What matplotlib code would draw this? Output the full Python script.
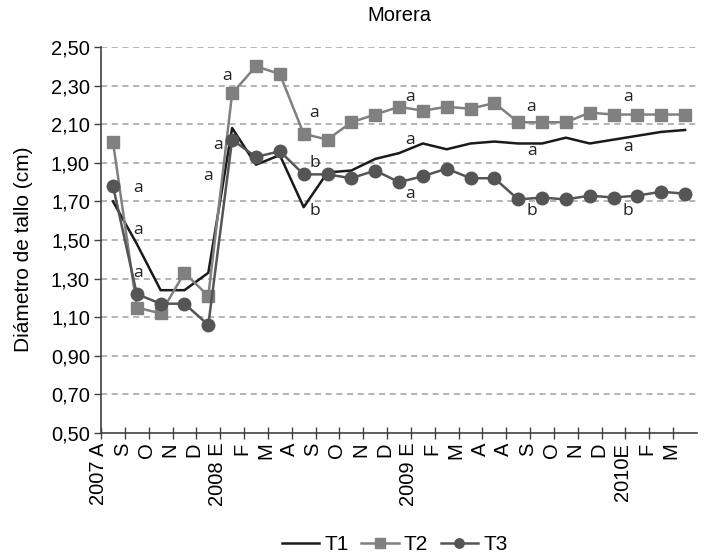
import numpy as np
import matplotlib
matplotlib.use("Agg")
import matplotlib.pyplot as plt
import matplotlib.transforms as mtransforms
from matplotlib.ticker import FuncFormatter

plt.rcParams["font.family"] = ["Liberation Sans", "DejaVu Sans"]

# category labels (month initials, year on first month)
months = ["2007 A", "S", "O", "N", "D", "2008 E", "F", "M", "A", "S", "O", "N",
          "D", "2009 E", "F", "M", "A", "A", "S", "O", "N", "D", "2010E", "F", "M"]

t1 = [1.70, 1.48, 1.24, 1.24, 1.33, 2.08, 1.89, 1.94, 1.67, 1.85, 1.86, 1.92,
      1.95, 2.00, 1.97, 2.00, 2.01, 2.00, 2.00, 2.03, 2.00, 2.02, 2.04, 2.06, 2.07]
t2 = [2.01, 1.15, 1.12, 1.33, 1.21, 2.26, 2.40, 2.36, 2.05, 2.02, 2.11, 2.15,
      2.19, 2.17, 2.19, 2.18, 2.21, 2.11, 2.11, 2.11, 2.16, 2.15, 2.15, 2.15, 2.15]
t3 = [1.78, 1.22, 1.17, 1.17, 1.06, 2.02, 1.93, 1.96, 1.84, 1.84, 1.82, 1.86,
      1.80, 1.83, 1.87, 1.82, 1.82, 1.71, 1.72, 1.71, 1.73, 1.72, 1.73, 1.75, 1.74]

# significance letters (position in category units, value)
letter_x = [1.05, 1.05, 1.05, 4.8, 4.4, 4.0,
            8.45, 8.45, 8.45, 12.45, 12.45, 12.45,
            17.55, 17.6, 17.55, 21.6, 21.6, 21.6]
letter_y = [1.77, 1.55, 1.33, 2.35, 1.99, 1.83,
            2.16, 1.90, 1.65, 2.24, 2.02, 1.74,
            2.19, 1.96, 1.65, 2.24, 1.98, 1.65]
letter_txt = ["a", "a", "a", "a", "a", "a",
              "a", "b", "b", "a", "a", "a",
              "a", "a", "b", "a", "a", "b"]

fig = plt.figure(figsize=(7.1, 5.56), dpi=100)
ax = fig.add_axes([0.1423, 0.2212, 0.8394, 0.6943])

x = np.arange(len(months))

ax.plot(x, t1, color="#1a1a1a", lw=1.8, label="T1", zorder=3)
ax.plot(x, t2, color="#808080", lw=1.8, marker="s", ms=9, label="T2", zorder=4)
ax.plot(x, t3, color="#555555", lw=1.8, marker="o", ms=9, label="T3", zorder=5)

for lx, ly, lt in zip(letter_x, letter_y, letter_txt):
    ax.text(lx, ly, lt, fontsize=12.5, ha="center", va="center",
            family=["Open Sans", "DejaVu Sans"], color="#222222", zorder=6)

ax.set_xlim(-0.5, len(months) - 0.5)
ax.set_ylim(0.5, 2.5)

yt = np.arange(0.5, 2.51, 0.2)
ax.set_yticks(yt)
ax.yaxis.set_major_formatter(FuncFormatter(lambda v, p: f"{v:.2f}".replace(".", ",")))
for v in yt[1:]:
    ax.axhline(v, color="#a0a0a0", lw=1.1, ls=(0, (4, 3)), zorder=1)

ax.set_xticks(x - 0.5)
ax.set_xticklabels(months, rotation=90, ha="center", va="top")
ax.tick_params(axis="x", direction="inout", length=8, width=1, color="#404040",
               labelsize=14.5, pad=3)
ax.tick_params(axis="y", direction="out", length=5, width=1, color="#404040",
               labelsize=14.5, pad=3)

# labels sit just left of their tick
shift = mtransforms.ScaledTranslation(-2.5 / 100, 0, fig.dpi_scale_trans)
for lab in ax.get_xticklabels():
    lab.set_transform(lab.get_transform() + shift)

for s in ["top", "right"]:
    ax.spines[s].set_visible(False)
for s in ["left", "bottom"]:
    ax.spines[s].set_color("#404040")
    ax.spines[s].set_linewidth(1.2)

fig.text(0.563, 0.973, "Morera", fontsize=14.5, ha="center", va="center")
fig.text(0.033, 0.551, "Diámetro de tallo (cm)", fontsize=15, rotation=90,
         ha="center", va="center")

fig.legend(loc="center", bbox_to_anchor=(0.556, 0.02), ncol=3, frameon=False,
           fontsize=15, handlelength=1.8, handletextpad=0.25, columnspacing=0.6,
           markerscale=0.75)

fig.savefig("out.png", dpi=100)
